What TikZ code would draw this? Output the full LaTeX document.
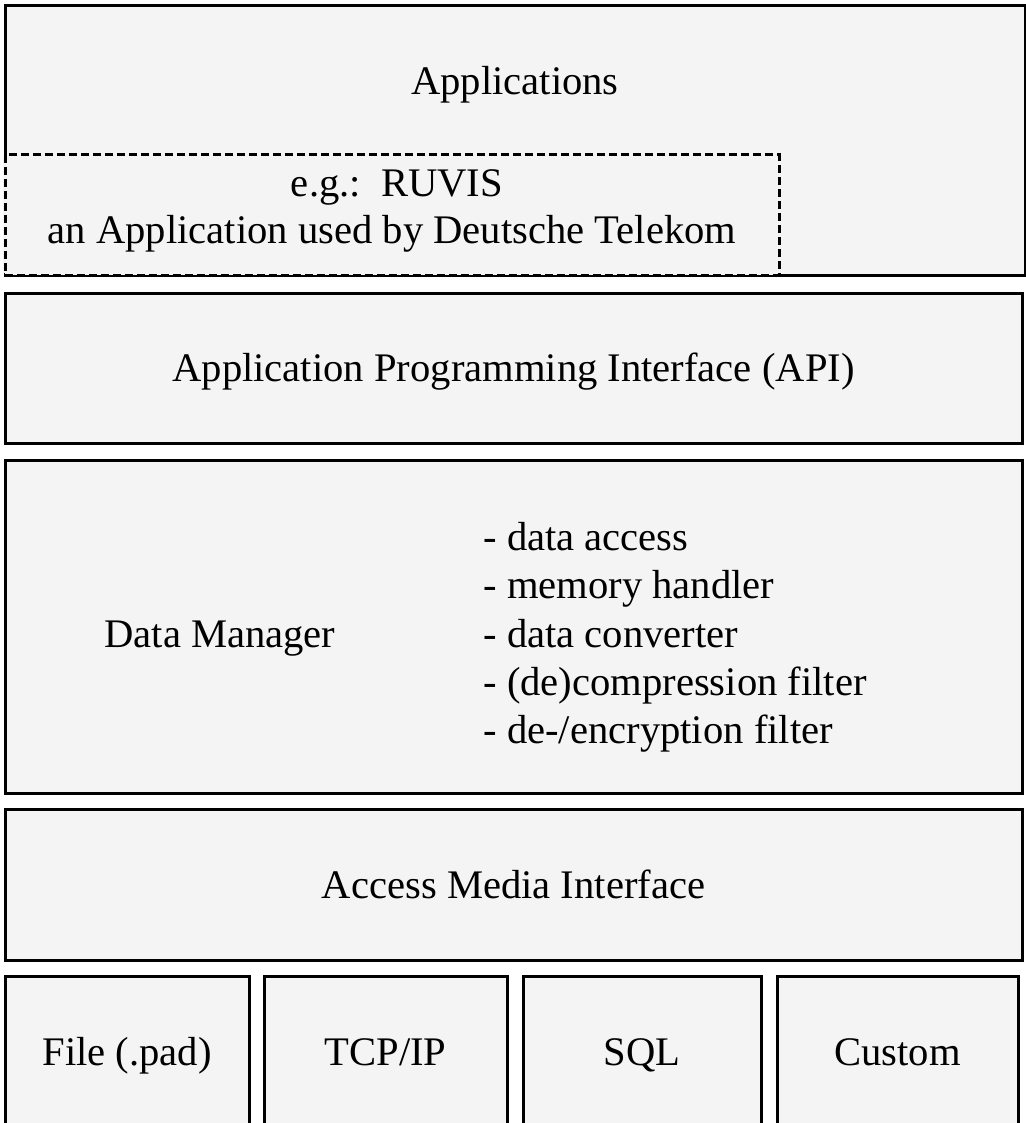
\documentclass[tikz,border=0pt]{standalone}
\usepackage{fontspec}
\setmainfont{Liberation Serif}
\definecolor{boxgray}{HTML}{F4F4F4}
\begin{document}
\begin{tikzpicture}[x=0.5pt,y=-0.5pt,
  box/.style={draw=black, line width=1.5pt, fill=boxgray, inner sep=0pt, outer sep=0pt, anchor=north west, text height=17.5pt, text depth=4pt, font=\fontsize{20.3}{23}\selectfont},
  dashbox/.style={draw=black, line width=1.5pt, dash pattern=on 4pt off 2pt, fill=boxgray, inner sep=0pt, outer sep=0pt, anchor=north west},
  lbl/.style={inner sep=0pt, font=\fontsize{20.3}{23}\selectfont}]
\path[use as bounding box, clip] (0,0) rectangle (1026,1123);
\fill[white] (0,0) rectangle (1026,1123);
% Applications layer
\node[box, minimum width=510pt, minimum height=134.5pt] (apps) at (5,6) {};
\fill[boxgray] (3,157) rectangle (8,273);
\node[dashbox, minimum width=387pt, minimum height=60pt] (eg) at (5,155) {};
\node[lbl, anchor=base] (appst) at (515,95) {Applications};
\node[lbl, anchor=base] (ruvis) at (397,197) {e.g.:\ \ RUVIS};
\node[lbl, anchor=base] (dt) at (392,243) {an Application used by Deutsche Telekom};
% API
\node[box, minimum width=508.5pt, minimum height=75pt] (api) at (5,293) {Application Programming Interface (API)};
% Data Manager
\node[box, minimum width=508.5pt, minimum height=166.5pt] (dm) at (5,460) {};
\node[lbl, anchor=base west] (dmt) at (104,647) {Data Manager};
\node[lbl, anchor=base west] (l1) at (483,550) {- data access};
\node[lbl, anchor=base west] (l2) at (483,598) {- memory handler};
\node[lbl, anchor=base west] (l3) at (483,647) {- data converter};
\node[lbl, anchor=base west] (l4) at (483,695) {- (de)compression filter};
\node[lbl, anchor=base west] (l5) at (483,743) {- de-/encryption filter};
% Access Media Interface
\node[box, minimum width=508.5pt, minimum height=75.5pt] (ami) at (5,809) {Access Media Interface};
% Media
\node[box, minimum width=122pt, minimum height=76pt] (file) at (5,976) {File (.pad)};
\node[box, minimum width=121.5pt, minimum height=76pt] (tcp) at (264,976) {TCP/IP};
\node[box, minimum width=119pt, minimum height=76pt] (sql) at (523,976) {SQL};
\node[box, minimum width=120.5pt, minimum height=76pt] (custom) at (777,976) {Custom};
\end{tikzpicture}
\end{document}
